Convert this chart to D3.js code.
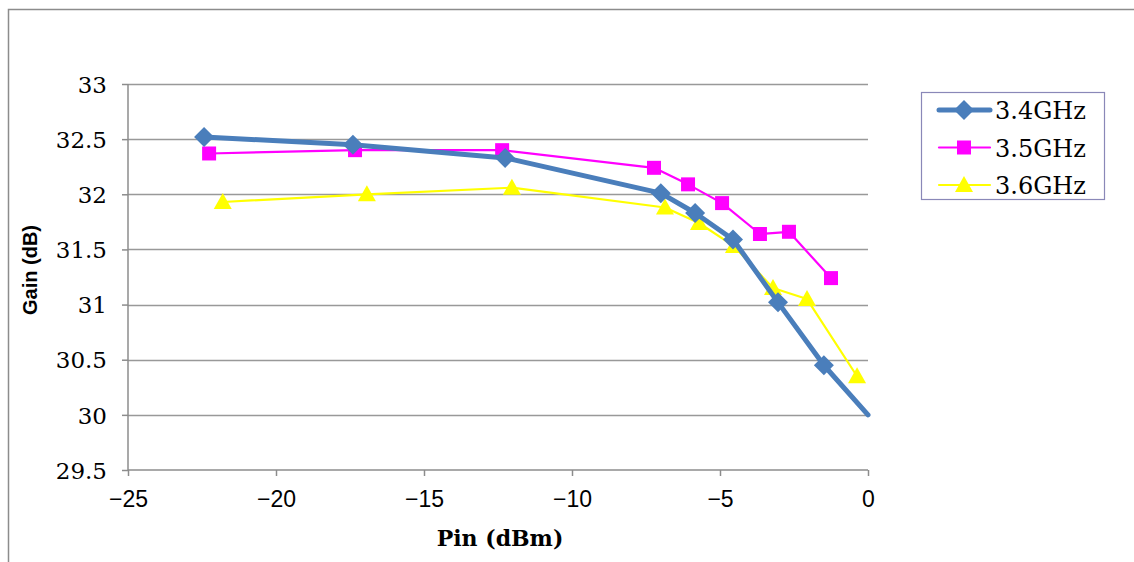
<!DOCTYPE html>
<html><head><meta charset="utf-8">
<script src="https://cdn.jsdelivr.net/npm/d3@7"></script>
<style>body{margin:0;background:#fff}svg{display:block}</style>
</head><body>
<svg id="c" width="1134" height="562"></svg>
<script>
const seriesNames = ["3.4GHz", "3.5GHz", "3.6GHz"];
const pin34  = [-22.43, -17.4, -12.26, -7.0, -5.84, -4.56, -3.04, -1.49, 0];
const gain34 = [32.52, 32.45, 32.33, 32.01, 31.83, 31.59, 31.02, 30.45, 30.0];
const pin35  = [-22.26, -17.33, -12.36, -7.23, -6.08, -4.93, -3.65, -2.67, -1.25];
const gain35 = [32.37, 32.40, 32.40, 32.24, 32.09, 31.92, 31.64, 31.66, 31.24];
const pin36  = [-21.8, -16.93, -12.03, -6.86, -5.71, -4.53, -3.21, -2.06, -0.37];
const gain36 = [31.93, 32.0, 32.06, 31.88, 31.74, 31.53, 31.15, 31.05, 30.35];
const xTicks = [-25, -20, -15, -10, -5, 0];
const yTicks = [29.5, 30, 30.5, 31, 31.5, 32, 32.5, 33];

const SERIF = "'DejaVu Serif', 'Liberation Serif', serif";
const svg = d3.select("#c");
const L = 128, R = 868, T = 84, B = 470;
const x = d3.scaleLinear().domain([-25, 0]).range([L, R]);
const y = d3.scaleLinear().domain([29.5, 33]).range([B, T]);

// outer frame
svg.append("path").attr("d", "M8.5,562 V9.5 H1134").attr("fill", "none").attr("stroke", "#8c8c8c").attr("stroke-width", 1.5);

// gridlines
svg.append("g").selectAll("line").data(yTicks.slice(1)).join("line")
  .attr("x1", L).attr("x2", R).attr("y1", d => Math.round(y(d)) + 0.5).attr("y2", d => Math.round(y(d)) + 0.5)
  .attr("stroke", "#999").attr("stroke-width", 1.5);

// axes
const yAxis = d3.axisLeft(y).tickValues(yTicks).tickSize(6).tickFormat(d => String(d));
const gy = svg.append("g").attr("transform", `translate(${L},0)`).call(yAxis).attr("font-family", null).attr("font-size", null);
gy.selectAll("path,line").attr("stroke", "#8c8c8c").attr("stroke-width", 1.5);
gy.select(".domain").attr("d", `M0,${T}V${B}`);
gy.selectAll("text").attr("x", -21).attr("dy", "0.36em")
  .style("font-family", SERIF).style("font-size", "23px").attr("fill", "#000");

const xAxis = d3.axisBottom(x).tickValues(xTicks).tickSize(6).tickFormat(d => d < 0 ? "\u2212" + Math.abs(d) : String(d));
const gx = svg.append("g").attr("transform", `translate(0,${B})`).call(xAxis).attr("font-family", null).attr("font-size", null);
gx.selectAll("path,line").attr("stroke", "#8c8c8c").attr("stroke-width", 1.5);
gx.select(".domain").attr("d", `M${L},0H${R}`);
gx.selectAll("text").attr("y", 21)
  .style("font-family", "'Liberation Sans Narrow', 'Liberation Sans', sans-serif").style("font-size", "23px").attr("fill", "#000");

// titles
svg.append("text").attr("x", 500).attr("y", 546).attr("text-anchor", "middle")
  .style("font-family", SERIF).style("font-weight", "bold").style("font-size", "22px")
  .text("Pin (dBm)");
svg.append("text").attr("transform", "translate(37,270) rotate(-90)").attr("text-anchor", "middle")
  .style("font-family", "'Liberation Sans', Arial, sans-serif").style("font-weight", "bold").style("font-size", "20px")
  .text("Gain (dB)");

const series = [
  {name: seriesNames[0], xs: pin34, ys: gain34, color: "#4a7ebb", width: 5, marker: "diamond"},
  {name: seriesNames[1], xs: pin35, ys: gain35, color: "#ff00ff", width: 2.2, marker: "square"},
  {name: seriesNames[2], xs: pin36, ys: gain36, color: "#ffff00", width: 2.2, marker: "triangle"}
];
function markerPath(type) {
  if (type === "diamond") return "M0,-10L10,0L0,10L-10,0Z";
  if (type === "square") return "M-7,-7H7V7H-7Z";
  return "M0,-9L9,7H-9Z";
}
const line = d3.line().x(d => x(d[0])).y(d => y(d[1]));
[...series].reverse().forEach(s => {
  const pts = s.xs.map((v, i) => [v, s.ys[i]]);
  const g = svg.append("g");
  g.append("path").attr("d", line(pts)).attr("fill", "none").attr("stroke", s.color)
    .attr("stroke-width", s.width).attr("stroke-linejoin", "round").attr("stroke-linecap", "round");
  g.selectAll("path.m").data(pts.filter(p => p[0] < 0)).join("path").attr("class", "m")
    .attr("d", markerPath(s.marker)).attr("transform", p => `translate(${x(p[0])},${y(p[1])})`)
    .attr("fill", s.color);
});

// legend
const lg = svg.append("g");
lg.append("rect").attr("x", 921.5).attr("y", 92.5).attr("width", 183).attr("height", 107)
  .attr("fill", "#fff").attr("stroke", "#8a88b8").attr("stroke-width", 1.2);
series.forEach((s, i) => {
  const cy = 110 + i * 37.5;
  lg.append("line").attr("x1", 939).attr("x2", 990).attr("y1", cy).attr("y2", cy)
    .attr("stroke", s.color).attr("stroke-width", s.width).attr("stroke-linecap", "round");
  lg.append("path").attr("d", markerPath(s.marker)).attr("transform", `translate(964,${cy})`).attr("fill", s.color);
  lg.append("text").attr("x", 995).attr("y", cy + 9)
    .style("font-family", SERIF).style("font-size", "24px").text(s.name);
});
</script>
</body></html>
